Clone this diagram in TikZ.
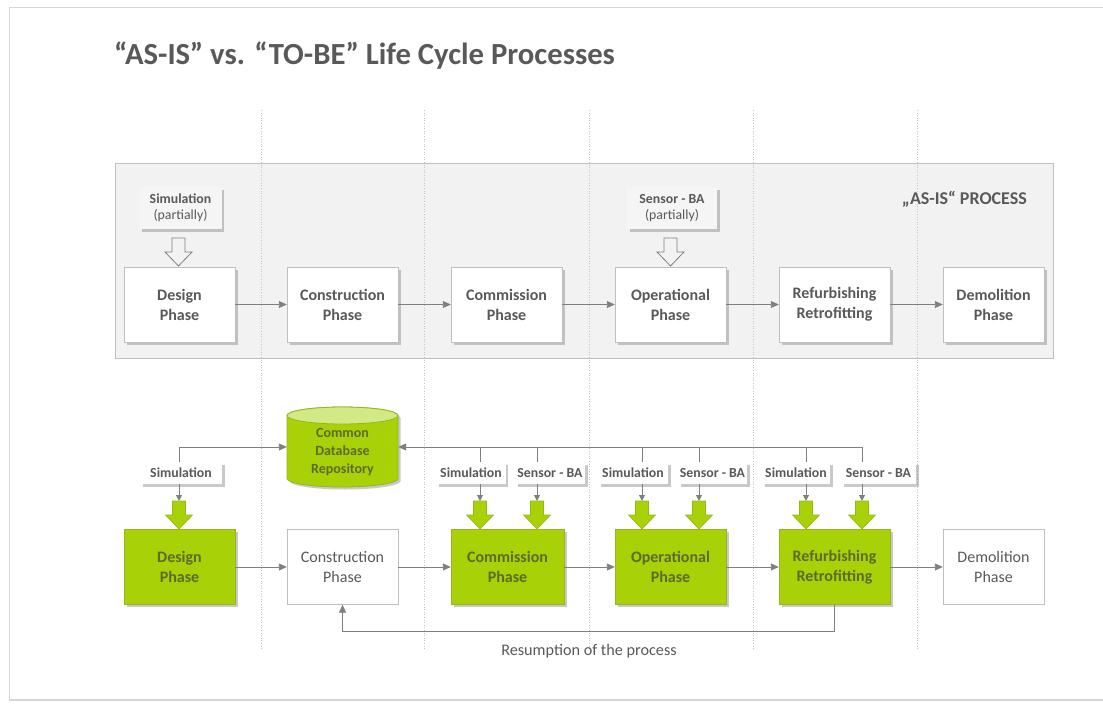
\documentclass[tikz,border=0pt]{standalone}
\usepackage{fontspec}
\setmainfont{Carlito}
\usetikzlibrary{arrows.meta,shadows,calc}

\definecolor{txtgray}{HTML}{595959}
\definecolor{greentxt}{HTML}{5E6A2A}
\definecolor{linegray}{HTML}{7F7F7F}
\definecolor{boxgray}{HTML}{BFBFBF}
\definecolor{panelgray}{HTML}{F2F2F2}
\definecolor{labelgray}{HTML}{F5F5F5}
\definecolor{lime}{HTML}{A8D108}
\definecolor{limelight}{HTML}{D2E986}
\definecolor{limedark}{HTML}{93B81A}
\definecolor{gridgray}{HTML}{C4C4C4}
\definecolor{framegray}{HTML}{D6D6D6}

\tikzset{
  x=1pt, y=-1pt,
  shade/.style={drop shadow={shadow xshift=2.5pt, shadow yshift=-2.5pt, opacity=0.35, fill=black!60}},
  phasebase/.style={draw=boxgray, fill=white, minimum width=111pt, minimum height=75pt,
    inner sep=0pt, align=center, text=txtgray},
  phase/.style={phasebase, shade, font=\bfseries\fontsize{16}{20}\selectfont},
  greenphase/.style={phasebase, shade, fill=lime, draw=limedark, text=greentxt,
    font=\bfseries\fontsize{16}{20}\selectfont},
  plainphase/.style={phasebase, font=\fontsize{16}{20}\selectfont},
  notebox/.style={fill=labelgray, shade, inner sep=0pt, align=center, text=txtgray,
    minimum height=42pt, font=\fontsize{13.8}{15.5}\selectfont},
  tag/.style={fill=white, shade, inner sep=0pt, minimum height=22pt, text=txtgray,
    font=\bfseries\fontsize{13.8}{15}\selectfont},
  flow/.style={draw=linegray, line width=0.9pt, -{Triangle[length=8pt,width=7pt]}},
  feed/.style={draw=linegray, line width=0.9pt, -{Triangle[length=6pt,width=6pt]}},
  wire/.style={draw=linegray, line width=0.9pt},
  gridline/.style={draw=gridgray, line width=0.6pt, dash pattern=on 1pt off 1.6pt},
  downarrow/.pic={\path[pic actions] (-6.5,0) -- (-6.5,14) -- (-13.5,14) -- (0,28)
    -- (13.5,14) -- (6.5,14) -- (6.5,0) -- cycle;},
}

\begin{document}
\begin{tikzpicture}
\useasboundingbox (0,0) rectangle (1103,704);
\fill[white] (0,0) rectangle (1103,704);

% slide frame
\draw[framegray, line width=1.2pt] (1103,7.5) -- (9.5,7.5) -- (9.5,700) -- (1103,700);

% title
\node[anchor=west, text=txtgray, font=\bfseries\fontsize{30.7}{34}\selectfont, inner sep=0pt]
  (title) at (114,56) {“AS-IS” vs. “TO-BE” Life Cycle Processes};

% AS-IS panel
\path[fill=panelgray, draw=boxgray, line width=0.8pt] (115,163) rectangle (1053,358);

% column separators
\foreach \gx in {261,424,589,753,917}
  \draw[gridline] (\gx,110) -- (\gx,650);

\node[anchor=east, text=txtgray, font=\bfseries\fontsize{18}{21}\selectfont, inner sep=0pt]
  (asis) at (1027,199) {„AS-IS“ PROCESS};

% ---------- AS-IS row ----------
\node[phase] (aD) at (179.5,304.5) {Design\\Phase};
\node[phase] (aC) at (342.5,304.5) {Construction\\Phase};
\node[phase] (aM) at (506.5,304.5) {Commission\\Phase};
\node[phase] (aO) at (670.5,304.5) {Operational\\Phase};
\node[phase] (aR) at (834.5,304.5) {Refurbishing\\Retrofitting};
\node[phase, minimum width=101pt] (aX) at (993.5,304.5) {Demolition\\Phase};

\foreach \a/\b in {aD/aC, aC/aM, aM/aO, aO/aR, aR/aX}
  \draw[flow] (\a.east) -- (\b.west);

\node[notebox, minimum width=82pt] (nSim) at (180.5,208) {\textbf{Simulation}\\(partially)};
\node[notebox, minimum width=90pt] (nSen) at (672,208) {\textbf{Sensor - BA}\\(partially)};

\pic[draw=linegray, fill=panelgray, line width=0.8pt] at (178.5,238) {downarrow};
\pic[draw=linegray, fill=panelgray, line width=0.8pt] at (670.5,238) {downarrow};

% ---------- TO-BE row ----------
% database cylinder
\path[fill=lime, draw=limedark, line width=0.8pt, shade]
  (287,415.5) -- (287,478.5) arc[start angle=180, end angle=0, x radius=55.5, y radius=8.5]
  -- (398,415.5) arc[start angle=0, end angle=-180, x radius=55.5, y radius=8.5] -- cycle;
\path[fill=limelight, draw=limedark, line width=0.8pt]
  (342.5,415.5) ellipse[x radius=55.5, y radius=8.5];
\node[minimum width=111pt, minimum height=81pt, inner sep=0pt] (db) at (342.5,447) {};
\node[align=center, text=greentxt, font=\bfseries\fontsize{14}{18}\selectfont, inner sep=0pt]
  (dbtext) at (342.5,452) {Common\\Database\\Repository};

\node[greenphase] (bD) at (179.5,567) {Design\\Phase};
\node[plainphase] (bC) at (342.5,567) {Construction\\Phase};
\node[greenphase, minimum width=113pt] (bM) at (507.5,567) {Commission\\Phase};
\node[greenphase] (bO) at (670.5,567) {Operational\\Phase};
\node[greenphase] (bR) at (834.5,567) {Refurbishing\\Retrofitting};
\node[plainphase, minimum width=101pt] (bX) at (993.5,567) {Demolition\\Phase};

\foreach \a/\b in {bD/bC, bC/bM, bM/bO, bO/bR, bR/bX}
  \draw[flow] (\a.east) -- (\b.west);

% data tags
\node[tag, minimum width=82pt] (tD)  at (181,473) {Simulation};
\node[tag, minimum width=69pt] (tM1) at (471,473) {Simulation};
\node[tag, minimum width=70pt] (tM2) at (550,473) {Sensor - BA};
\node[tag, minimum width=70pt] (tO1) at (633,473) {Simulation};
\node[tag, minimum width=69pt] (tO2) at (712.5,473) {Sensor - BA};
\node[tag, minimum width=68pt] (tR1) at (796,473) {Simulation};
\node[tag, minimum width=75pt] (tR2) at (878.5,473) {Sensor - BA};

% bus points and green arrow tops
\foreach \n/\gx in {D/179, M1/480, M2/537, O1/642, O2/699, R1/806, R2/862} {
  \coordinate (k\n) at (\gx,447);
  \coordinate (g\n) at (\gx,501);
}

% design data into the repository
\draw[flow] (kD |- tD.north) -- (kD) -- (db.west);
% shared bus from later phases into the repository
\draw[flow] (kR2) -- (db.east);
\foreach \n in {M1,M2,O1,O2,R1,R2}
  \draw[wire] (k\n) -- (k\n |- t\n.north);

% feeds from tags to the phases
\foreach \n in {D,M1,M2,O1,O2,R1,R2} {
  \draw[feed] (k\n |- t\n.south) -- (g\n);
  \pic[fill=lime, draw=limedark, line width=0.6pt, shade] at (g\n) {downarrow};
}

% resumption loop
\draw[flow] (bR.south) -- ++(0,27) -| (bC.south);
\node[text=txtgray, font=\fontsize{16.2}{19}\selectfont, inner sep=0pt]
  (resume) at (589,651) {Resumption of the process};
\end{tikzpicture}
\end{document}
